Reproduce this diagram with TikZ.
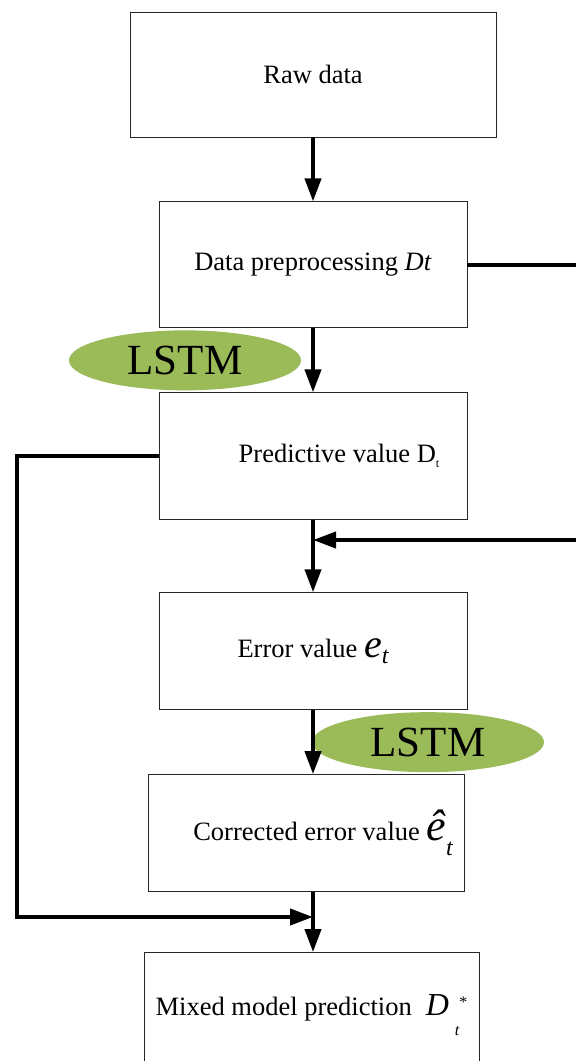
\documentclass[tikz,border=0pt]{standalone}
\usepackage{fontspec}
\setmainfont{Liberation Serif}
\usepackage{tikz}
\usetikzlibrary{calc,positioning,shapes.geometric,arrows.meta}
\definecolor{lstmgreen}{HTML}{9BBB59}

\begin{document}
\begin{tikzpicture}[box/.style={draw=black!85, line width=0.9pt, rectangle, inner sep=0pt, font=\fontsize{26.5}{30}\selectfont},
  lstm/.style={ellipse, fill=lstmgreen, inner sep=0pt, minimum width=232pt, minimum height=60pt, font=\fontsize{43}{43}\selectfont},
  flow/.style={line width=4pt, -{Triangle[length=23pt,width=16pt]}},
  link/.style={line width=4pt}]
  \useasboundingbox (0,0) rectangle (576pt,-1061pt);
  \node[box, minimum width=366pt, minimum height=125pt] (raw) at (313pt,-74.5pt) {Raw data};
  \node[box, minimum width=308pt, minimum height=126pt, below = 64pt of raw] (pre) {\raisebox{-2pt}{Data preprocessing \textit{Dt}}};
  \node[box, minimum width=308pt, minimum height=127pt, below = 64pt of pre] (pred) {\hspace*{52pt}Predictive value D\raisebox{-5pt}{\fontsize{12}{12}\selectfont t}};
  \node[box, minimum width=308pt, minimum height=117pt, below = 72pt of pred] (err) {Error value {\fontsize{40}{40}\selectfont\itshape e}\raisebox{-6pt}{\fontsize{24}{24}\selectfont\itshape t}};
  \node[box, minimum width=316pt, minimum height=117pt, below = 64pt of err, xshift=-7pt] (cor) {\hspace*{34pt}Corrected error value {\fontsize{44}{44}\selectfont\itshape \^e}\raisebox{-15pt}{\fontsize{24}{24}\selectfont\itshape t}};
  \node[box, minimum width=335pt, minimum height=125pt, below = 60pt of cor, xshift=5.5pt] (mix) {Mixed model prediction\hspace{14pt}{\fontsize{32}{32}\selectfont\itshape D}\hspace{6pt}\raisebox{-20pt}{\fontsize{16}{16}\selectfont\itshape t}\raisebox{8pt}{\fontsize{16}{16}\selectfont *}};
  \node[lstm, xshift=-128pt] (lstmA) at ($(pre.south)!0.5!(pred.north)$) {LSTM};
  \node[lstm, xshift=115pt] (lstmB) at ($(err.south)!0.5!(err.south |- cor.north)$) {LSTM};
  \coordinate (rgtA) at (pre.east -| 576pt,0);
  \coordinate (rgtB) at (576pt,-540pt);
  \coordinate (lft) at (17pt,-917pt);
  \coordinate (mjoin) at (err.south |- lft);
  \draw[flow] (raw) -- (pre);
  \draw[flow] (pre) -- (pred);
  \draw[flow] (pred) -- (err);
  \draw[flow] (err.south) -- (err.south |- cor.north);
  \draw[flow] (cor.south -| err.south) -- (mix.north -| err.south);
  \draw[link] (pre.east) -- (rgtA);
  \draw[flow] (rgtB) -- (rgtB -| err.south);
  \draw[flow] (pred.west) -| (lft) -- (mjoin);
\end{tikzpicture}
\end{document}
